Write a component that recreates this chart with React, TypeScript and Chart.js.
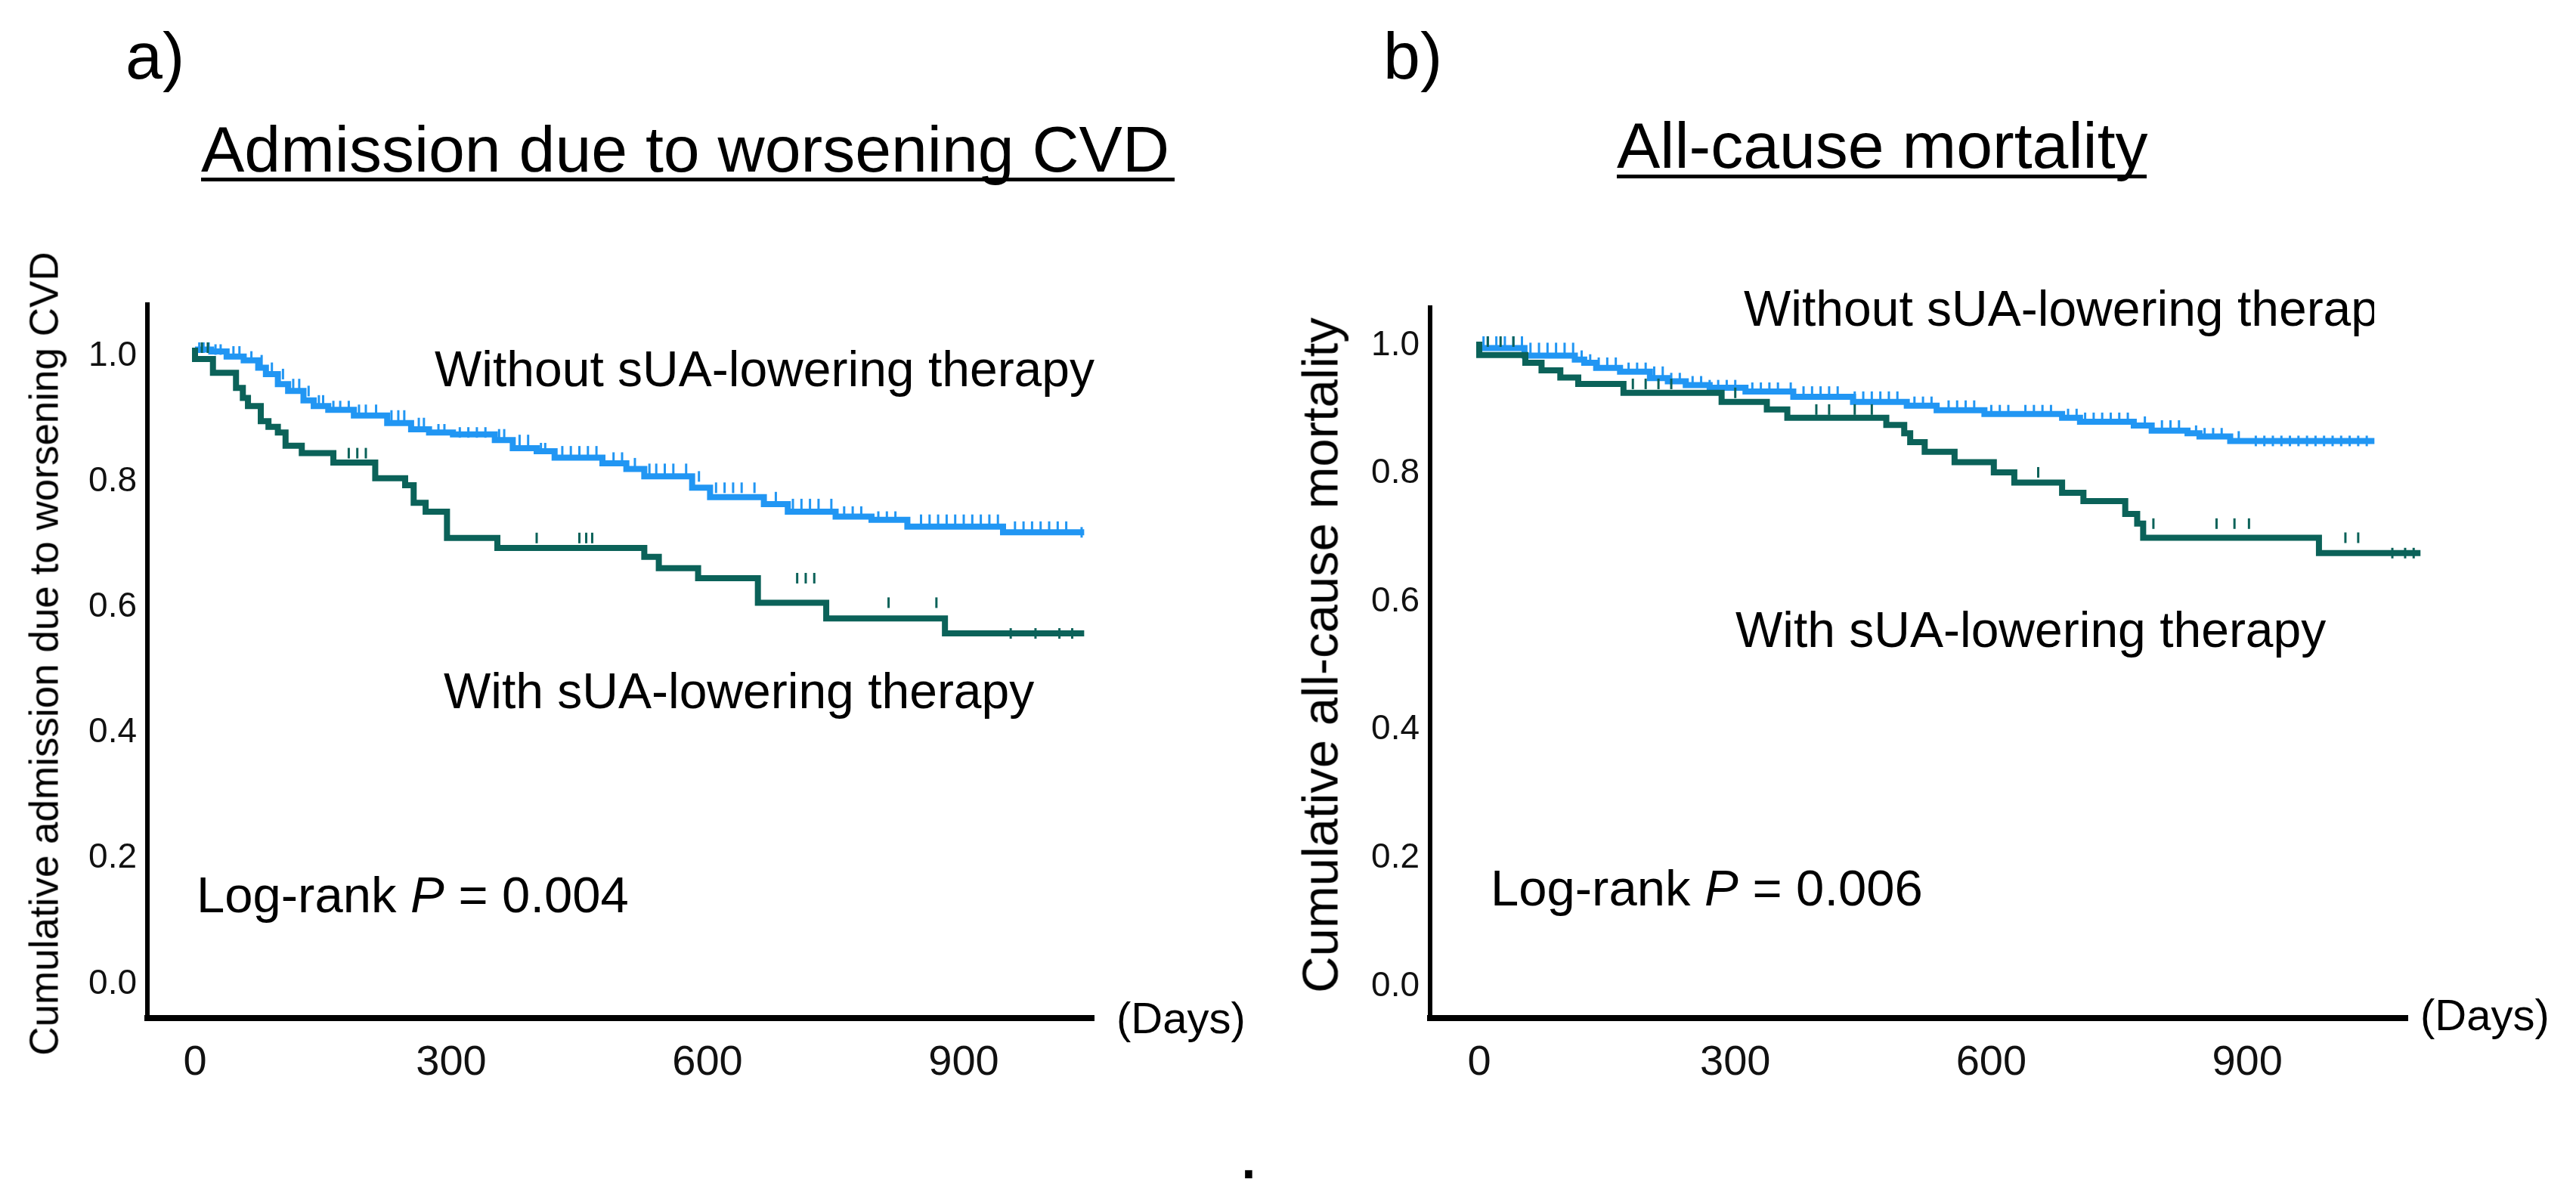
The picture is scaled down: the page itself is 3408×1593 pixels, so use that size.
import React, { useEffect, useRef } from 'react';
import { Chart, registerables } from 'chart.js';

Chart.register(...registerables);

const BLUE = '#2196F3';
const GREEN = '#0B6259';
const FONT = '"Liberation Sans", Arial, Helvetica, sans-serif';

// ---- Panel a: Admission due to worsening CVD ----
const aWithoutDays = [0, 19, 37, 57, 74, 83, 97, 109, 127, 139, 156, 186, 225, 253, 274, 302, 351, 372, 400, 421, 477, 505, 526, 582, 603, 666, 694, 750, 792, 834, 946, 1032];
const aWithoutSurv = [1.0, 0.997, 0.994, 0.986, 0.98, 0.968, 0.958, 0.942, 0.931, 0.916, 0.907, 0.901, 0.892, 0.88, 0.87, 0.865, 0.862, 0.853, 0.84, 0.835, 0.825, 0.816, 0.807, 0.795, 0.777, 0.762, 0.751, 0.739, 0.731, 0.726, 0.715, 0.706];
const aWithoutEnd = 1041;
const aWithoutCensor = [5, 10, 16, 24, 30, 45, 52, 66, 78, 90, 103, 115, 122, 133, 145, 150, 162, 170, 180, 192, 200, 212, 230, 238, 245, 262, 268, 285, 292, 310, 320, 330, 340, 356, 362, 380, 390, 405, 410, 430, 440, 450, 460, 470, 490, 500, 515, 532, 540, 550, 560, 575, 590, 610, 620, 630, 640, 655, 680, 700, 710, 720, 730, 745, 760, 770, 780, 800, 810, 820, 850, 860, 870, 880, 890, 900, 910, 920, 930, 940, 960, 970, 980, 990, 1000, 1010, 1020, 1038];

const aWithDays = [0, 21, 48, 56, 62, 77, 86, 97, 106, 125, 162, 211, 246, 256, 270, 295, 354, 526, 543, 589, 659, 739, 878, 935];
const aWithSurv = [1.0, 0.982, 0.96, 0.936, 0.92, 0.907, 0.883, 0.874, 0.865, 0.844, 0.832, 0.817, 0.792, 0.781, 0.753, 0.739, 0.697, 0.681, 0.667, 0.649, 0.633, 0.594, 0.569, 0.545];
const aWithEnd = 1041;
const aWithCensor = [8, 15, 180, 190, 200, 400, 450, 458, 465, 705, 715, 725, 812, 868, 955, 984, 1012, 1027];

// ---- Panel b: All-cause mortality ----
const bWithoutDays = [0, 53, 112, 123, 137, 165, 200, 221, 242, 270, 312, 368, 438, 501, 536, 592, 683, 704, 767, 788, 830, 844, 880, 905];
const bWithoutSurv = [1.0, 0.99, 0.978, 0.972, 0.967, 0.959, 0.953, 0.943, 0.938, 0.932, 0.928, 0.922, 0.914, 0.906, 0.9, 0.893, 0.887, 0.881, 0.875, 0.869, 0.861, 0.857, 0.852, 0.845];
const bWithoutEnd = 1049;
const bWithoutCensor = [5, 10, 20, 30, 40, 50, 60, 70, 80, 90, 100, 110, 120, 130, 140, 150, 160, 175, 185, 195, 205, 215, 225, 235, 250, 260, 270, 280, 290, 300, 320, 330, 340, 350, 365, 380, 390, 400, 410, 420, 440, 450, 460, 470, 480, 490, 510, 520, 530, 550, 560, 570, 580, 600, 610, 620, 640, 650, 660, 670, 690, 700, 710, 720, 730, 740, 750, 760, 780, 800, 810, 820, 840, 850, 860, 870, 890, 910, 920, 930, 940, 950, 960, 970, 980, 990, 1000, 1010, 1020, 1030, 1040];

const bWithDays = [0, 54, 73, 95, 116, 169, 284, 337, 361, 477, 498, 505, 522, 557, 603, 627, 683, 708, 757, 771, 778, 984, 1051];
const bWithSurv = [1.0, 0.979, 0.967, 0.955, 0.944, 0.934, 0.92, 0.906, 0.894, 0.881, 0.87, 0.857, 0.843, 0.828, 0.812, 0.796, 0.78, 0.764, 0.751, 0.731, 0.716, 0.694, 0.67];
const bWithEnd = 1103;
const bWithCensor = [10, 25, 40, 180, 195, 210, 225, 300, 395, 410, 440, 460, 655, 790, 864, 885, 902, 1015, 1030, 1070, 1085, 1095];

// ---- Axes ----
const xTickValues = [0, 300, 600, 900];
const yTickValues = [0, 0.2, 0.4, 0.6, 0.8, 1.0];

function stepPoints(days: number[], surv: number[], end: number) {
  const pts = days.map((d, i) => ({ x: d, y: surv[i] }));
  pts.push({ x: end, y: surv[surv.length - 1] });
  return pts;
}

function survAt(days: number[], surv: number[], t: number) {
  let s = surv[0];
  for (let i = 0; i < days.length; i++) if (days[i] <= t) s = surv[i];
  return s;
}

function censorPoints(days: number[], surv: number[], censor: number[]) {
  return censor.map((t) => ({ x: t, y: survAt(days, surv, t) }));
}

interface PanelCfg {
  left: number;
  width: number;
  top: number;
  right: number;
  bottom: number;
  xMin: number;
  xMax: number;
  yMin: number;
  yMax: number;
  labelOffset: number;
  withDays: number[];
  withSurv: number[];
  withEnd: number;
  withCensor: number[];
  withoutDays: number[];
  withoutSurv: number[];
  withoutEnd: number;
  withoutCensor: number[];
}

const H = 1593;
const X_AXIS_H = 150;

const panelA: PanelCfg = {
  left: 0, width: 1704, top: 403, right: 1447, bottom: 1347,
  xMin: -55.75, xMax: 1052.2, yMin: -0.0674, yMax: 1.0686, labelOffset: 11,
  withDays: aWithDays, withSurv: aWithSurv, withEnd: aWithEnd, withCensor: aWithCensor,
  withoutDays: aWithoutDays, withoutSurv: aWithoutSurv, withoutEnd: aWithoutEnd, withoutCensor: aWithoutCensor,
};

const panelB: PanelCfg = {
  left: 1704, width: 1704, top: 407, right: 3185, bottom: 1347,
  xMin: -57.6, xMax: 1087.7, yMin: -0.0554, yMax: 1.053, labelOffset: 5,
  withDays: bWithDays, withSurv: bWithSurv, withEnd: bWithEnd, withCensor: bWithCensor,
  withoutDays: bWithoutDays, withoutSurv: bWithoutSurv, withoutEnd: bWithoutEnd, withoutCensor: bWithoutCensor,
};

function Panel({ cfg, yAxisLeft }: { cfg: PanelCfg; yAxisLeft: number }) {
  const ref = useRef<HTMLCanvasElement | null>(null);
  useEffect(() => {
    if (!ref.current) return;
    const yWidth = yAxisLeft - cfg.left;
    const chart = new Chart(ref.current, {
      type: 'line',
      data: {
        datasets: [
          {
            label: 'With sUA-lowering therapy',
            data: stepPoints(cfg.withDays, cfg.withSurv, cfg.withEnd),
            borderColor: GREEN,
            borderWidth: 8,
            stepped: 'after',
            pointRadius: 0,
            fill: false,
            clip: false,
          } as any,
          {
            label: 'With censored',
            data: censorPoints(cfg.withDays, cfg.withSurv, cfg.withCensor),
            showLine: false,
            pointStyle: 'line',
            pointRotation: 90,
            pointRadius: 7,
            pointBorderWidth: 3,
            pointBorderColor: GREEN,
            pointBackgroundColor: GREEN,
            clip: false,
          } as any,
          {
            label: 'Without sUA-lowering therapy',
            data: stepPoints(cfg.withoutDays, cfg.withoutSurv, cfg.withoutEnd),
            borderColor: BLUE,
            borderWidth: 8,
            stepped: 'after',
            pointRadius: 0,
            fill: false,
            clip: false,
          } as any,
          {
            label: 'Without censored',
            data: censorPoints(cfg.withoutDays, cfg.withoutSurv, cfg.withoutCensor),
            showLine: false,
            pointStyle: 'line',
            pointRotation: 90,
            pointRadius: 7,
            pointBorderWidth: 3,
            pointBorderColor: BLUE,
            pointBackgroundColor: BLUE,
            clip: false,
          } as any,
        ],
      },
      options: {
        animation: false,
        responsive: false,
        maintainAspectRatio: false,
        devicePixelRatio: 1,
        layout: {
          padding: {
            left: 0,
            top: cfg.top,
            right: cfg.left + cfg.width - cfg.right,
            bottom: H - cfg.bottom - X_AXIS_H,
          },
        },
        plugins: { legend: { display: false }, tooltip: { enabled: false }, title: { display: false } },
        scales: {
          x: {
            type: 'linear',
            min: cfg.xMin,
            max: cfg.xMax,
            grid: { display: false, drawTicks: false },
            border: { display: true, color: '#000', width: 8 },
            ticks: {
              font: { family: FONT, size: 56 },
              color: '#111',
              padding: 26,
              maxRotation: 0,
              autoSkip: false,
              callback: (v: any) => String(v),
            },
            afterBuildTicks: (s: any) => {
              s.ticks = xTickValues.map((v) => ({ value: v }));
            },
            afterFit: (s: any) => {
              s.height = X_AXIS_H;
            },
          },
          y: {
            type: 'linear',
            min: cfg.yMin,
            max: cfg.yMax,
            grid: { display: false, drawTicks: false },
            border: { display: true, color: '#000', width: 6 },
            ticks: {
              font: { family: FONT, size: 46 },
              color: '#111',
              padding: 14,
              labelOffset: cfg.labelOffset,
              autoSkip: false,
              callback: (v: any) => Number(v).toFixed(1),
            },
            afterBuildTicks: (s: any) => {
              s.ticks = yTickValues.map((v) => ({ value: v }));
            },
            afterFit: (s: any) => {
              s.width = yWidth;
            },
          },
        },
      },
    });
    return () => chart.destroy();
  }, []);
  return (
    <canvas
      ref={ref}
      width={cfg.width}
      height={H}
      style={{ position: 'absolute', left: cfg.left, top: 0, width: cfg.width, height: H }}
    />
  );
}

function Txt({ x, top, fs, children, style }: { x: number; top: number; fs: number; children: any; style?: any }) {
  return (
    <div
      style={{
        position: 'absolute',
        left: x,
        top: top,
        fontFamily: FONT,
        fontSize: fs,
        lineHeight: 1,
        whiteSpace: 'nowrap',
        color: '#000',
        ...style,
      }}
    >
      {children}
    </div>
  );
}

// top of a line-height:1 box from a baseline position
const topFor = (baseline: number, fs: number) => baseline - 0.8465 * fs;

export default function App() {
  return (
    <div style={{ position: 'absolute', left: 0, top: 0, width: 3408, height: 1593, background: '#fff', overflow: 'hidden' }}>
      <Panel cfg={panelA} yAxisLeft={195} />
      <Panel cfg={panelB} yAxisLeft={1892} />

      {/* Panel labels */}
      <Txt x={166} top={topFor(104, 88)} fs={88}>a)</Txt>
      <Txt x={1830} top={topFor(104, 88)} fs={88}>b)</Txt>

      {/* Titles */}
      <Txt x={266} top={topFor(227, 86)} fs={86}>Admission due to worsening CVD</Txt>
      <div style={{ position: 'absolute', left: 266, top: 235, width: 1288, height: 5, background: '#000' }} />
      <Txt x={2139} top={topFor(222, 86)} fs={86}>All-cause mortality</Txt>
      <div style={{ position: 'absolute', left: 2139, top: 231, width: 701, height: 5, background: '#000' }} />

      {/* Panel a annotations */}
      <Txt x={575} top={topFor(511, 66)} fs={66}>Without sUA-lowering therapy</Txt>
      <Txt x={587} top={topFor(937, 66)} fs={66}>With sUA-lowering therapy</Txt>
      <Txt x={260} top={topFor(1207, 67)} fs={67}>
        Log-rank <i>P</i> = 0.004
      </Txt>
      <Txt x={1477} top={topFor(1367, 58)} fs={58}>(Days)</Txt>

      {/* Panel b annotations */}
      <Txt x={2307} top={topFor(431, 66)} fs={66} style={{ width: 834, overflow: 'hidden', height: 80 }}>
        Without sUA-lowering therapy
      </Txt>
      <Txt x={2296} top={topFor(856, 66)} fs={66}>With sUA-lowering therapy</Txt>
      <Txt x={1972} top={topFor(1198, 67)} fs={67}>
        Log-rank <i>P</i> = 0.006
      </Txt>
      <Txt x={3202} top={topFor(1363, 58)} fs={58}>(Days)</Txt>

      {/* Y axis titles */}
      <div
        style={{
          position: 'absolute', left: 58, top: 865, fontFamily: FONT, fontSize: 53, lineHeight: 1,
          whiteSpace: 'nowrap', color: '#000', transform: 'translate(-50%, -50%) rotate(-90deg)',
        }}
      >
        Cumulative admission due to worsening CVD
      </div>
      <div
        style={{
          position: 'absolute', left: 1746, top: 867, fontFamily: FONT, fontSize: 67, lineHeight: 1,
          whiteSpace: 'nowrap', color: '#000', transform: 'translate(-50%, -50%) rotate(-90deg)',
        }}
      >
        Cumulative all-cause mortality
      </div>

      {/* stray period below the panels */}
      <Txt x={1638} top={topFor(1559, 100)} fs={100}>.</Txt>
    </div>
  );
}
